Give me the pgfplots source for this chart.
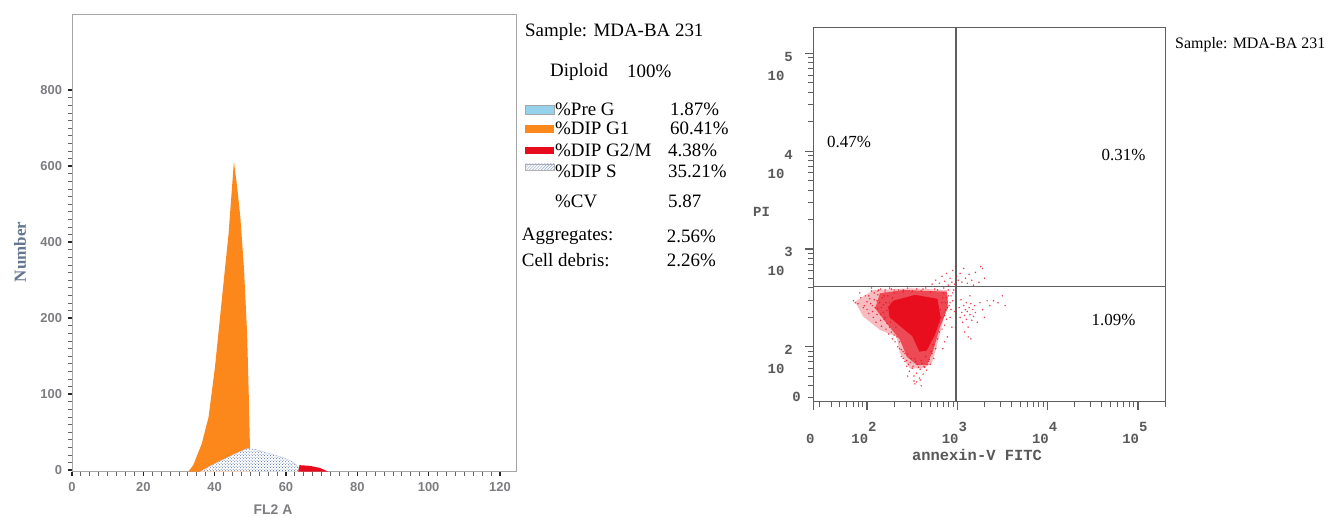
\documentclass[border=0pt]{standalone}
\usepackage{fontspec}
\setmainfont{Liberation Serif}
\newfontfamily\tickf{Liberation Sans}
\newfontfamily\monof{Liberation Mono}
\usepackage{pgfplots}
\usepackage{pgfplotstable}
\pgfplotsset{compat=1.18}
\usetikzlibrary{patterns}
\definecolor{gone}{RGB}{252,136,28}
\definecolor{gtwo}{RGB}{230,12,30}
\definecolor{preg}{RGB}{150,210,235}
\definecolor{sdot}{RGB}{70,100,165}
\definecolor{tickgray}{RGB}{125,125,130}
\definecolor{numblue}{RGB}{100,118,145}
\definecolor{dotred}{RGB}{232,14,30}
\definecolor{axgray}{RGB}{95,95,95}

\newcommand{\xdec}[1]{10\raisebox{12bp}{#1}}
\newcommand{\ydec}[1]{\raisebox{-27bp}{10\raisebox{19bp}{#1}}}

% histogram: G1 (orange)
\pgfplotstableread{
x y
32.6 -2
34.0 6.6
36.4 35
38.3 70
40.1 136
42.0 224
43.9 311
45.4 406
46.3 373
47.2 333
48.2 267
49.1 180
49.6 92
49.9 29
50.1 -2
}\gonetab
% S phase
\pgfplotstableread{
x y
35.9 -2
39.2 6.6
43.0 15.4
46.3 22.8
49.1 28.5
51.5 27.2
55.3 22
59.1 16.7
61.9 11
63.4 4.4
64.3 -2
}\stab
% G2/M
\pgfplotstableread{
x y
63.4 -2
63.8 6.6
66.7 5.7
69.5 3
71.9 -2
}\gtwotab

% dot plot: envelope of the dense cloud
\pgfplotstableread{
x y
1.867 2.460
2.070 2.580
2.476 2.597
2.883 2.580
2.900 2.478
2.845 2.273
2.772 2.000
2.717 1.830
2.623 1.779
2.476 1.779
2.365 1.933
2.329 2.102
2.144 2.171
1.959 2.307
}\halotab
\pgfplotstableread{
x y
2.144 2.546
2.403 2.580
2.883 2.563
2.901 2.410
2.809 2.205
2.735 1.966
2.661 1.813
2.551 1.813
2.440 1.898
2.366 2.069
2.218 2.239
2.089 2.393
}\midtab
\pgfplotstableread{
x y
2.290 2.470
2.532 2.530
2.780 2.490
2.815 2.293
2.752 2.120
2.660 1.960
2.580 1.950
2.500 2.110
2.380 2.200
2.250 2.300
2.235 2.406
}\coretab
\pgfplotstableread{
x y
1.85 2.47
1.87 2.45
1.90 2.44
1.92 2.55
1.93 2.50
1.96 2.40
1.98 2.52
2.00 2.46
2.02 2.34
2.03 2.49
2.05 2.57
2.06 2.42
2.07 2.30
2.08 2.55
2.10 2.25
2.11 2.47
2.12 2.39
2.13 2.58
2.15 2.33
2.16 2.21
2.17 2.50
2.18 2.43
2.19 2.28
2.20 2.56
2.21 2.18
2.22 2.37
2.23 2.52
2.24 2.13
2.25 2.45
2.26 2.25
2.27 2.59
2.28 2.08
2.29 2.33
2.30 2.55
2.31 2.05
2.32 2.20
2.36 1.98
2.38 1.90
2.40 1.95
2.42 1.85
2.44 1.80
2.45 1.92
2.47 1.75
2.48 1.84
2.50 1.78
2.52 1.70
2.53 1.88
2.55 1.73
2.56 1.82
2.58 1.68
2.59 1.77
2.60 1.86
2.62 1.72
2.63 1.80
2.65 1.90
2.66 1.76
2.68 1.85
2.70 1.82
2.72 1.93
2.74 1.88
2.55 1.64
2.52 1.65
2.59 1.66
2.45 1.70
2.80 2.15
2.82 2.30
2.83 2.45
2.85 2.55
2.86 2.22
2.87 2.38
2.88 2.50
2.89 2.10
2.90 2.58
2.91 2.42
2.92 2.30
2.93 2.52
2.94 2.20
2.95 2.47
2.96 2.58
2.97 2.36
2.86 2.05
2.84 1.98
3.02 2.40
3.03 2.30
3.04 2.48
3.05 2.35
3.06 2.25
3.07 2.42
3.08 2.32
3.09 2.38
3.10 2.28
3.10 2.45
3.11 2.36
3.12 2.20
3.13 2.40
3.14 2.33
3.15 2.44
3.16 2.27
3.17 2.38
3.18 2.31
3.19 2.42
3.20 2.35
3.12 2.10
3.08 2.15
3.15 2.08
3.22 2.25
3.25 2.45
3.28 2.38
3.30 2.30
3.33 2.47
3.36 2.42
3.40 2.47
3.45 2.45
3.50 2.52
3.53 2.42
3.14 2.52
2.72 2.64
2.76 2.68
2.80 2.65
2.83 2.72
2.86 2.67
2.88 2.75
2.90 2.63
2.92 2.70
2.94 2.66
2.95 2.78
2.97 2.64
2.99 2.72
3.01 2.68
3.03 2.75
3.05 2.66
3.07 2.80
3.09 2.70
3.11 2.65
3.13 2.74
3.16 2.68
3.20 2.76
3.24 2.66
3.28 2.80
3.30 2.70
3.18 2.63
2.98 2.82
3.26 2.82
2.05 2.60
2.15 2.59
2.25 2.60
2.35 2.58
2.45 2.60
2.55 2.59
2.65 2.60
2.75 2.59
2.85 2.60
2.40 2.56
2.60 2.57
2.70 2.56
2.50 2.57
2.53 1.62
2.60 1.60
1.97 2.42
2.00 2.38
2.02 2.52
2.04 2.44
2.06 2.36
2.08 2.48
2.09 2.40
2.11 2.33
2.12 2.53
2.14 2.45
2.15 2.27
2.16 2.40
2.18 2.35
2.19 2.52
2.20 2.30
2.21 2.45
2.22 2.24
2.24 2.40
2.25 2.20
2.27 2.15
2.28 2.50
2.30 2.12
2.33 2.10
2.34 2.00
2.36 2.05
2.38 1.97
2.40 1.88
2.42 1.93
2.44 1.86
2.46 1.82
2.49 1.88
2.51 1.80
2.54 1.85
2.57 1.79
2.61 1.83
2.64 1.79
2.67 1.82
2.69 1.87
2.71 1.95
2.73 2.02
2.76 1.98
2.78 2.08
2.80 2.25
2.81 2.38
2.83 2.18
2.84 2.50
2.86 2.32
2.87 2.45
2.88 2.28
2.89 2.40
2.90 2.52
2.92 2.45
2.93 2.38
2.95 2.55
2.40 2.58
2.30 2.58
2.20 2.58
2.12 2.57
2.62 2.59
2.78 2.58
}\dottab

\begin{document}
\begin{tikzpicture}[x=1bp,y=1bp]
\path[use as bounding box, fill=white] (0,0) rectangle (1327,517);

% ---------------- histogram ----------------
\begin{axis}[at={(72bp,45.3bp)}, anchor=south west, scale only axis,
  width=444bp, height=456.7bp,
  xmin=0, xmax=124.5, ymin=-2, ymax=599,
  axis line style={draw=black!35, line width=1bp},
  xtick={0,20,...,120}, ytick={0,100,...,500},
  yticklabels={0,100,200,400,600,800},
  minor x tick num=7, minor y tick num=9,
  tick align=outside, xtick pos=bottom, ytick pos=left,
  major tick length=4.5bp, minor tick length=4bp,
  major tick style={black!85, line width=1.6bp},
  minor tick style={black!60, line width=0.9bp},
  /pgf/number format/assume math mode=true,
  tick label style={font=\tickf\bfseries\fontsize{13}{13}\selectfont, text=tickgray},
  yticklabel style={xshift=-2bp},
  xticklabel style={yshift=-3bp},
]
\addplot[draw=none, fill=gone] table {\gonetab};
\addplot[draw=none, fill=white] table {\stab};
\addplot[draw=sdot!40, line width=0.3bp, pattern=crosshatch dots, pattern color=sdot] table {\stab};
\addplot[draw=none, fill=gtwo] table {\gtwotab};
\end{axis}
\node[rotate=90, font=\bfseries\fontsize{17}{17}\selectfont, text=numblue] at (20,265) {Number};
\node[font=\tickf\bfseries\fontsize{14}{14}\selectfont, text=tickgray] at (273,7) {FL2 A};

% ---------------- text panel ----------------
\begin{scope}[every node/.style={anchor=west, inner sep=0pt, font=\fontsize{19}{19}\selectfont}]
\node at (525,485.3) {Sample: MDA-BA 231};
\node at (550,445.3) {Diploid};
\node at (627,445.3) {100\%};
\node at (555,407.7) {\%Pre G};      \node at (670,407.7) {1.87\%};
\node at (555,388.7) {\%DIP G1};     \node at (670,388.7) {60.41\%};
\node at (555,367.0) {\%DIP G2/M};   \node at (668,367.0) {4.38\%};
\node at (555,345.3) {\%DIP S};      \node at (668,345.3) {35.21\%};
\node at (555,315.3) {\%CV};         \node at (668,315.3) {5.87};
\node at (521.7,280.3) {Aggregates:};  \node at (666.7,280.3) {2.56\%};
\node at (521.7,257.0) {Cell debris:}; \node at (666.7,257.0) {2.26\%};
\end{scope}
\fill[preg, draw=black!35] (525,403) rectangle (554,411.3);
\fill[gone] (525,384.3) rectangle (554,392);
\fill[gtwo] (525,363) rectangle (554,370.3);
\fill[white, draw=black!30] (525,347) rectangle (554,353);
\fill[pattern=north east lines, pattern color=sdot!60] (525,347) rectangle (554,353);

% ---------------- dot plot ----------------
\begin{axis}[at={(813.3bp,115.3bp)}, anchor=south west, scale only axis,
  width=352.2bp, height=374.4bp,
  xmin=1.405, xmax=5.306, ymin=1.438, ymax=5.266,
  axis line style={draw=axgray, line width=1.3bp},
  xtick={1.405,2,3,4,5},
  xticklabels={{\vphantom{\xdec{2}}0},\xdec{2},\xdec{3},\xdec{4},\xdec{5}},
  ytick={2,3,4,5},
  yticklabels={\ydec{2},\ydec{3},\ydec{4},\ydec{5}},
  extra y ticks={1.438}, extra y tick labels={0},
  extra y tick style={major tick length=0pt, yticklabel style={anchor=east, yshift=5bp}},
  minor xtick={1.477,1.602,1.699,1.778,1.845,1.903,1.954,2.301,2.477,2.602,2.699,2.778,2.845,2.903,2.954,3.301,3.477,3.602,3.699,3.778,3.845,3.903,3.954,4.301,4.477,4.602,4.699,4.778,4.845,4.903,4.954,5.301},
  minor ytick={1.477,1.602,1.699,1.778,1.845,1.903,1.954,2.301,2.477,2.602,2.699,2.778,2.845,2.903,2.954,3.301,3.477,3.602,3.699,3.778,3.845,3.903,3.954,4.301,4.477,4.602,4.699,4.778,4.845,4.903,4.954},
  tick align=outside, xtick pos=bottom, ytick pos=left,
  major tick length=8bp, minor tick length=5bp,
  major tick style={axgray, line width=1.2bp},
  minor tick style={axgray, line width=1bp},
  tick label style={font=\monof\bfseries\fontsize{14}{14}\selectfont, text=black!65},
  yticklabel style={anchor=base east, xshift=-9bp},
  xticklabel style={yshift=-9bp, xshift=-3bp},
]
\addplot[draw=none, fill=dotred, fill opacity=0.28] table {\halotab};
\addplot[draw=none, fill=dotred, fill opacity=0.65] table {\midtab};
\addplot[draw=none, fill=dotred] table {\coretab};
\addplot[only marks, mark=*, mark size=0.85bp, color=dotred, mark options={draw opacity=0, fill opacity=0.8}] table {\dottab};
\addplot[axgray, line width=1.4bp] coordinates {(2.986,1.438) (2.986,5.266)};
\addplot[axgray, line width=1.4bp] coordinates {(1.405,2.613) (5.306,2.613)};
\end{axis}
\node[font=\monof\bfseries\fontsize{15.5}{15.5}\selectfont, text=black!65] at (977,62) {annexin-V FITC};
\node[font=\monof\bfseries\fontsize{14}{14}\selectfont, text=black!65] at (761.5,305.3) {PI};
\begin{scope}[every node/.style={font=\fontsize{17}{17}\selectfont}]
\node at (849,375.3) {0.47\%};
\node at (1123.5,362) {0.31\%};
\node at (1113.5,197) {1.09\%};
\end{scope}
\node[anchor=west, inner sep=0pt, font=\fontsize{16}{16}\selectfont] at (1175,472) {Sample: MDA-BA 231};
\end{tikzpicture}
\end{document}
